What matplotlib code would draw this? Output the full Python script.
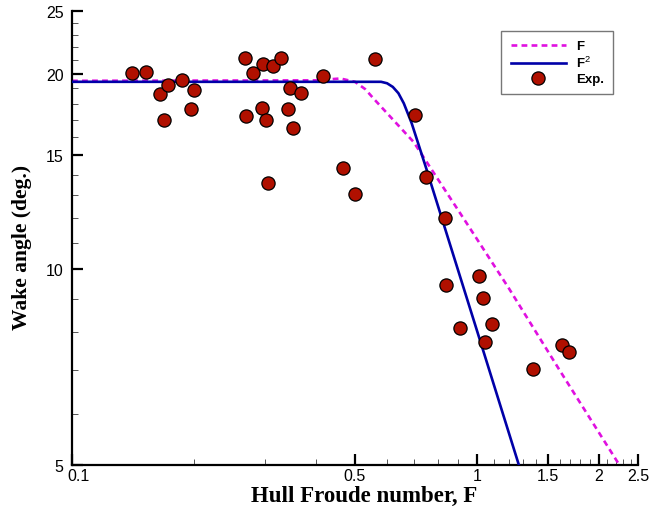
import numpy as np
import matplotlib
matplotlib.use("Agg")
import matplotlib.pyplot as plt
import matplotlib.transforms as mtransforms
from matplotlib.ticker import FixedLocator, FixedFormatter, NullFormatter

plt.rcParams['font.family'] = ['Liberation Sans', 'DejaVu Sans']
plt.rcParams['mathtext.fontset'] = 'custom'
plt.rcParams['mathtext.rm'] = 'Liberation Sans'
plt.rcParams['mathtext.it'] = 'Liberation Sans'

# experimental points (Froude number, wake angle in deg)
exp_fr = [0.141, 0.1525, 0.165, 0.1725, 0.1865, 0.2004, 0.1686, 0.1963,
          0.2676, 0.280, 0.2965, 0.3132, 0.3285, 0.2692, 0.2948, 0.3009,
          0.3451, 0.3688, 0.342, 0.3518, 0.4165, 0.4667, 0.4989, 0.3056,
          0.561, 0.7024, 0.7508, 0.8333, 1.01, 0.837, 1.035, 0.911,
          1.091, 1.048, 1.379, 1.623, 1.687]
exp_angle = [20.07, 20.14, 18.63, 19.25, 19.57, 18.89, 17.0, 17.68,
             21.17, 20.07, 20.72, 20.55, 21.14, 17.25, 17.75, 17.0,
             19.03, 18.71, 17.67, 16.5, 19.86, 14.33, 13.05, 13.59,
             21.09, 17.29, 13.9, 12.02, 9.77, 9.46, 9.05, 8.12,
             8.23, 7.72, 7.03, 7.66, 7.47]

# model curve "F"
f1_fr = [0.1, 0.40, 0.46, 0.50, 0.53, 0.557, 0.62, 0.698, 0.80, 0.929, 1.2, 1.6, 2.3]
f1_angle = [19.52, 19.55, 19.68, 19.45, 18.95, 18.3, 17.02, 15.71, 13.79, 11.96, 9.35, 7.0, 4.89]

# model curve "F^2"
f2_fr = [0.1, 0.58, 0.60, 0.62, 0.64, 0.66, 0.69, 0.75, 1.0, 1.30]
f2_angle = [19.45, 19.45, 19.35, 19.1, 18.68, 18.02, 16.8, 14.3, 8.06, 4.77]

x_major = [0.1, 0.5, 1, 1.5, 2, 2.5]
x_major_labels = ['0.1', '0.5', '1', '1.5', '2', '2.5']
x_minor = [0.2, 0.3, 0.4, 0.6, 0.7, 0.8, 0.9, 1.1, 1.2, 1.3, 1.4,
           1.6, 1.7, 1.8, 1.9, 2.1, 2.2, 2.3, 2.4]
y_major = [5, 10, 15, 20, 25]
y_minor = [6, 7, 8, 9, 11, 12, 13, 14, 16, 17, 18, 19, 21, 22, 23, 24]

fig = plt.figure(figsize=(6.51, 5.10), dpi=100)
ax = fig.add_axes([72/651, 44/510, 566/651, 454/510])

ax.plot(f1_fr, f1_angle, color='#e010e0', lw=1.9, ls=(0, (2.2, 1.6)), label='F', zorder=2)
ax.plot(f2_fr, f2_angle, color='#0000a8', lw=1.9, label='F$^2$', zorder=3)
ax.plot(exp_fr, exp_angle, 'o', ms=9.5, mfc='#b01000', mec='black', mew=0.9,
        label='Exp.', zorder=4)

ax.set_xscale('log')
ax.set_yscale('log')
ax.set_xlim(0.1, 2.5)
ax.set_ylim(5, 25)

ax.xaxis.set_major_locator(FixedLocator(x_major))
ax.xaxis.set_major_formatter(FixedFormatter(x_major_labels))
ax.xaxis.set_minor_locator(FixedLocator(x_minor))
ax.xaxis.set_minor_formatter(NullFormatter())
ax.yaxis.set_major_locator(FixedLocator(y_major))
ax.yaxis.set_major_formatter(FixedFormatter([str(v) for v in y_major]))
ax.yaxis.set_minor_locator(FixedLocator(y_minor))
ax.yaxis.set_minor_formatter(NullFormatter())

for s in ['top', 'right']:
    ax.spines[s].set_visible(False)
for s in ['left', 'bottom']:
    ax.spines[s].set_linewidth(1.6)

ax.tick_params(which='major', direction='in', length=8, width=1.6, labelsize=11.5)
ax.tick_params(which='minor', direction='in', length=4.5, width=0.7, color='#555555')
ax.tick_params(axis='x', which='major', pad=2)
ax.tick_params(axis='y', which='major', pad=6)

# nudge the "0.1" label right so it clears the "5" on the y axis
shift = mtransforms.ScaledTranslation(6/100, 0, fig.dpi_scale_trans)
lbl = ax.xaxis.get_major_ticks()[0].label1
lbl.set_transform(lbl.get_transform() + shift)

ax.set_xlabel('Hull Froude number, F', family='Liberation Serif', weight='bold', fontsize=16.5, labelpad=0)
ax.xaxis.set_label_coords(0.516, -0.045)
ax.set_ylabel('Wake angle (deg.)', family='Liberation Serif', weight='bold', fontsize=15.5)
ax.yaxis.set_label_coords(-0.071, 0.482)

leg = ax.legend(loc='upper right', bbox_to_anchor=(0.956, 0.956), borderaxespad=0,
                fancybox=False, edgecolor='#777777', framealpha=1,
                handlelength=4.2, handletextpad=0.75, labelspacing=0.2, borderpad=0.7,
                prop={'family': 'Liberation Sans', 'weight': 'bold', 'size': 9.5})
leg.get_frame().set_linewidth(1.0)

fig.savefig('out.png', dpi=100)
